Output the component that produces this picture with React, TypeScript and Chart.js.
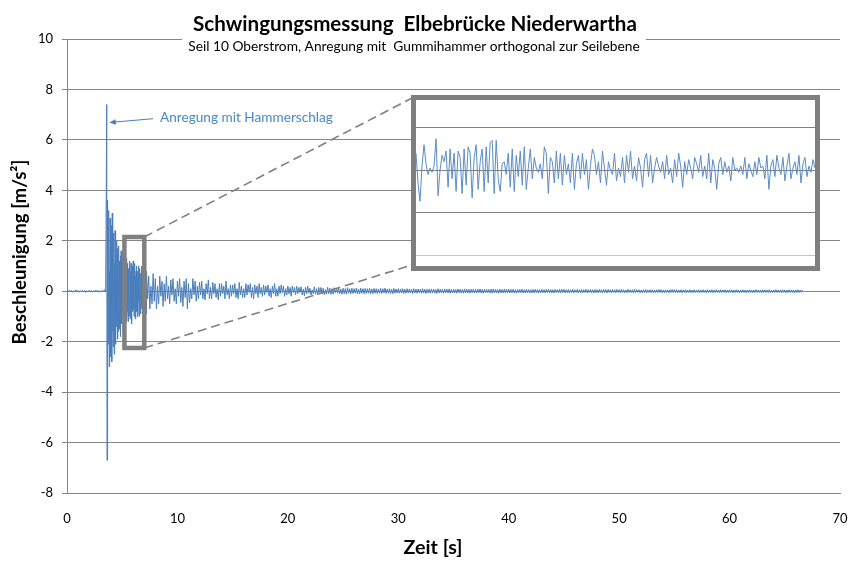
import React, { useEffect, useRef } from "react";
import { Chart, registerables } from "chart.js";
Chart.register(...registerables);

// ---------- data ----------
// acceleration [m/s²] before the hammer hit, 0 s … 3.5 s, every 0.1 s
const PRE_START = 0, PRE_DT = 0.1;
const preAccel: number[] = [
  0.02,-0.03,0.04,-0.02,0.03,-0.04,0.02,-0.03,0.05,-0.02,
  0.03,-0.04,0.02,-0.03,0.04,-0.02,0.03,-0.05,0.02,-0.03,
  0.04,-0.02,0.03,-0.04,0.02,-0.03,0.05,-0.02,0.03,-0.04,
  0.02,-0.03,0.04,-0.02,0.06,-0.03,
];
// hammer hit and strong decay, 3.6 s … 7.175 s, every 0.025 s
const BURST_START = 3.6, BURST_DT = 0.025;
const burstAccel: number[] = [
  7.4,-6.7,3.6,-3.3,1.2,-2.1,3.2,-0.6,2.4,-3.0,0.8,-1.9,2.9,-1.1,1.8,-2.6,
  2.6,-0.9,1.5,-2.8,3.1,-1.6,0.7,-2.2,2.3,-0.4,1.9,-2.5,1.1,-1.7,2.4,-1.2,
  1.6,-2.1,0.5,-1.4,2.0,-0.8,1.3,-1.9,1.7,-0.6,0.9,-1.6,1.8,-1.0,1.2,-1.5,
  0.6,-1.8,1.4,-0.5,1.6,-1.2,0.8,-1.3,1.5,-0.7,1.1,-1.6,0.4,-0.9,1.3,-1.1,
  1.2,-0.5,0.9,-1.3,0.6,-1.0,1.3,-0.4,1.0,-1.2,0.5,-0.8,1.1,-0.9,0.7,-1.2,
  0.9,-0.6,1.2,-1.0,0.4,-1.1,0.8,-0.5,1.1,-0.9,0.6,-1.3,0.9,-0.3,1.0,-0.8,
  1.2,-0.7,0.5,-1.0,0.9,-0.4,1.1,-0.9,0.6,-1.1,0.8,-0.5,1.0,-0.8,0.3,-0.9,
  0.8,-1.0,0.6,-0.4,1.0,-0.7,0.5,-1.0,0.9,-0.6,0.7,-0.9,0.4,-0.7,1.0,-0.5,
  0.7,-0.9,0.3,-0.6,0.8,-1.0,0.6,-0.4,0.9,-0.7,0.5,-0.8,0.7,-0.3,0.6,-0.9,
];
// slow decay, 7.2 s … 66.6 s, every 0.1 s
const DECAY_START = 7.2, DECAY_DT = 0.1;
const decayAccel: number[] = [
  0.8,-0.3,0.6,-0.7,0.2,-0.5,0.7,-0.4,
  0.5,-0.7,0.2,-0.5,0.6,-0.2,0.4,-0.6,0.3,-0.4,
  0.6,-0.3,0.2,-0.5,0.45,-0.15,0.5,-0.4,0.1,-0.5,
  0.4,-0.2,0.5,-0.45,0.15,-0.6,0.4,-0.25,0.5,-0.7,
  0.3,-0.45,0.1,-0.3,0.5,-0.15,0.4,-0.4,0.2,-0.3,
  0.35,-0.15,0.4,-0.3,0.1,-0.35,0.3,-0.1,0.45,-0.3,
  0.15,-0.3,0.35,-0.1,0.3,-0.25,0.1,-0.35,0.3,-0.2,
  0.3,-0.1,0.2,-0.3,0.4,-0.15,0.1,-0.3,0.25,-0.2,
  0.25,-0.1,0.3,-0.25,0.1,-0.3,0.35,-0.15,0.2,-0.25,
  0.1,-0.25,0.3,-0.15,0.25,-0.05,0.3,-0.25,0.15,-0.3,
  0.25,-0.1,0.2,-0.25,0.3,-0.1,0.15,-0.2,0.25,-0.15,
  0.2,-0.05,0.25,-0.2,0.1,-0.25,0.2,-0.1,0.3,-0.2,
  0.1,-0.2,0.2,-0.1,0.25,-0.05,0.2,-0.2,0.1,-0.15,
  0.2,-0.1,0.15,-0.2,0.2,-0.05,0.15,-0.15,0.2,-0.1,
  0.15,-0.05,0.18,-0.15,0.08,-0.18,0.15,-0.1,0.2,-0.08,
  0.12,-0.15,0.05,-0.1,0.18,-0.12,0.1,-0.15,0.15,-0.06,
  0.15,-0.1,0.12,-0.14,0.06,-0.12,0.16,-0.1,0.12,-0.12,
  0.1,-0.12,0.14,-0.06,0.12,-0.08,0.15,-0.1,0.08,-0.12,
  0.12,-0.1,0.1,-0.12,0.14,-0.08,0.1,-0.1,0.12,-0.09,
  0.1,-0.08,0.12,-0.1,0.09,-0.11,0.12,-0.08,0.1,-0.1,
  0.11,-0.09,0.1,-0.08,0.12,-0.1,0.09,-0.1,0.11,-0.08,
  0.1,-0.1,0.09,-0.08,0.11,-0.09,0.1,-0.07,0.12,-0.09,
  0.09,-0.08,0.1,-0.09,0.08,-0.1,0.11,-0.08,0.09,-0.07,
  0.1,-0.08,0.09,-0.07,0.1,-0.09,0.08,-0.08,0.1,-0.07,
  0.09,-0.07,0.08,-0.09,0.1,-0.07,0.08,-0.08,0.09,-0.06,
  0.08,-0.08,0.1,-0.07,0.08,-0.09,0.07,-0.07,0.09,-0.08,
  0.09,-0.06,0.08,-0.08,0.07,-0.09,0.1,-0.07,0.08,-0.06,
  0.07,-0.08,0.09,-0.06,0.08,-0.07,0.09,-0.08,0.07,-0.07,
  0.08,-0.07,0.07,-0.08,0.09,-0.06,0.08,-0.07,0.07,-0.08,
  0.09,-0.06,0.08,-0.07,0.07,-0.08,0.08,-0.06,0.09,-0.07,
  0.07,-0.07,0.08,-0.06,0.09,-0.07,0.07,-0.08,0.08,-0.06,
  0.08,-0.06,0.07,-0.07,0.08,-0.08,0.09,-0.06,0.07,-0.07,
  0.07,-0.08,0.08,-0.06,0.07,-0.07,0.08,-0.07,0.09,-0.06,
  0.08,-0.07,0.07,-0.06,0.08,-0.07,0.06,-0.08,0.07,-0.06,
  0.07,-0.06,0.08,-0.07,0.06,-0.07,0.08,-0.06,0.07,-0.07,
  0.06,-0.07,0.07,-0.06,0.08,-0.06,0.07,-0.07,0.06,-0.06,
  0.07,-0.06,0.06,-0.07,0.07,-0.05,0.08,-0.06,0.07,-0.07,
  0.06,-0.07,0.07,-0.05,0.06,-0.07,0.07,-0.06,0.08,-0.05,
  0.07,-0.06,0.06,-0.06,0.07,-0.07,0.06,-0.05,0.07,-0.06,
  0.06,-0.05,0.07,-0.06,0.06,-0.06,0.07,-0.07,0.06,-0.05,
  0.07,-0.06,0.06,-0.05,0.07,-0.06,0.06,-0.07,0.07,-0.06,
  0.06,-0.06,0.07,-0.05,0.06,-0.06,0.07,-0.05,0.06,-0.07,
  0.07,-0.05,0.06,-0.06,0.07,-0.05,0.06,-0.06,0.07,-0.05,
  0.06,-0.06,0.07,-0.05,0.06,-0.06,0.05,-0.06,0.07,-0.05,
  0.06,-0.05,0.06,-0.06,0.07,-0.05,0.06,-0.05,0.06,-0.06,
  0.05,-0.06,0.06,-0.05,0.07,-0.06,0.05,-0.05,0.06,-0.06,
  0.06,-0.05,0.05,-0.06,0.06,-0.05,0.07,-0.05,0.06,-0.06,
  0.05,-0.06,0.06,-0.05,0.05,-0.06,0.06,-0.05,0.07,-0.05,
  0.06,-0.05,0.06,-0.06,0.05,-0.05,0.06,-0.06,0.05,-0.05,
  0.06,-0.06,0.05,-0.05,0.06,-0.05,0.05,-0.06,0.06,-0.05,
  0.05,-0.05,0.06,-0.06,0.05,-0.05,0.06,-0.05,0.05,-0.06,
  0.06,-0.05,0.05,-0.05,0.06,-0.06,0.05,-0.05,0.06,-0.05,
  0.05,-0.06,0.06,-0.05,0.05,-0.05,0.06,-0.06,0.05,-0.05,
  0.06,-0.05,0.05,-0.06,0.05,-0.05,0.06,-0.05,0.05,-0.06,
  0.05,-0.05,0.06,-0.05,0.05,-0.06,0.05,-0.05,0.06,-0.05,
  0.05,-0.06,0.05,-0.05,0.06,-0.05,0.05,-0.05,0.05,-0.06,
  0.06,-0.05,0.05,-0.05,0.05,-0.06,0.06,-0.05,0.05,-0.05,
  0.05,-0.05,0.06,-0.05,0.05,-0.05,0.05,-0.06,0.06,-0.05,
  0.05,-0.06,0.05,-0.05,0.06,-0.05,0.05,-0.05,0.05,-0.06,
  0.05,-0.05,0.06,-0.05,0.05,-0.04,0.05,
];

// zoomed detail shown in the inset (same units)
const insetAccel: number[] = [
  0.4,-0.3,-0.73,0.1,0.6,0.15,-0.1,0.05,-0.05,0.1,
  0.74,-0.6,0.0,0.35,0.2,0.45,-0.4,0.5,-0.2,0.4,
  -0.5,0.45,0.3,-0.55,0.5,-0.35,0.55,0.4,-0.65,0.3,
  0.6,-0.45,0.2,0.5,-0.5,0.55,-0.3,0.65,0.7,-0.55,
  0.7,-0.2,-0.5,0.15,0.2,-0.1,0.4,-0.4,0.5,-0.5,
  0.35,-0.15,0.45,-0.35,0.55,-0.45,0.05,0.5,-0.2,0.3,
  0.05,-0.05,0.15,-0.2,0.55,0.4,-0.55,0.3,0.2,-0.3,
  0.45,-0.2,0.4,-0.35,0.35,-0.1,0.15,-0.3,0.4,-0.45,
  0.15,0.35,-0.2,0.4,-0.1,0.25,-0.45,0.1,0.5,0.35,
  -0.1,0.2,-0.3,0.45,0.05,-0.35,0.2,0.0,-0.1,0.4,
  -0.25,0.05,-0.15,0.3,-0.3,0.35,-0.05,0.45,-0.2,0.1,
  -0.25,0.3,0.05,-0.4,0.25,0.4,-0.15,0.35,-0.3,0.05,
  0.3,0.1,-0.05,0.2,-0.2,0.35,-0.1,0.05,-0.3,0.25,
  -0.15,0.4,0.1,-0.4,0.2,-0.1,0.25,0.05,-0.2,0.3,
  0.15,-0.05,0.35,-0.15,0.1,-0.2,0.4,-0.3,0.25,0.05,
  -0.45,0.15,0.3,-0.1,0.2,-0.05,0.1,-0.25,0.3,0.0,
  0.05,-0.05,0.1,-0.1,0.3,-0.2,0.15,0.0,-0.15,0.2,
  -0.1,0.3,0.05,0.1,-0.2,0.35,-0.45,0.1,0.25,-0.15,
  0.35,0.05,-0.1,0.3,-0.25,0.1,0.4,-0.2,0.05,0.2,
  -0.1,0.35,-0.3,0.15,0.3,-0.15,0.1,-0.05,0.25,0.05,
];

const segments = [
  { start: PRE_START, step: PRE_DT, values: preAccel },
  { start: BURST_START, step: BURST_DT, values: burstAccel },
  { start: DECAY_START, step: DECAY_DT, values: decayAccel },
];

const X_MIN = 0, X_MAX = 70, X_STEP = 10;
const Y_MIN = -8, Y_MAX = 10, Y_STEP = 2;
const INSET_Y_MIN = -2.25, INSET_Y_MAX = 1.65;
const insetGridValues = [-2, -1, 0, 1];
// zoom window (data units)
const zoomWindow = { t0: 5.2, t1: 7.0, a0: -2.25, a1: 2.15 };
// annotation (data units)
const annotation = { text: "Anregung mit Hammerschlag", tipT: 3.83, tipA: 6.69, fromT: 7.8, fromA: 6.84, textT: 8.42, textA: 6.87 };

const TITLE = "Schwingungsmessung  Elbebrücke Niederwartha";
const SUBTITLE = "Seil 10 Oberstrom, Anregung mit  Gummihammer orthogonal zur Seilebene";
const X_TITLE = "Zeit [s]";
const Y_TITLE = "Beschleunigung [m/s²]";

// ---------- layout / style ----------
const W = 866, H = 574;
const INSET = { left: 411, top: 95, width: 409, height: 176, border: 5 };
const FONT = "Lato, 'Open Sans', sans-serif";
const GRID = "#868686";
const LINE = "#4a7ebb";
const ANNOT = "#4a88c6";

function fitFont(ctx: CanvasRenderingContext2D, text: string, weight: string, width: number) {
  ctx.font = `${weight} 100px ${FONT}`;
  const w = ctx.measureText(text).width;
  return `${weight} ${(100 * width / w).toFixed(2)}px ${FONT}`;
}

const overlayPlugin = {
  id: "overlay",
  afterDraw(chart: any) {
    const { ctx, scales } = chart;
    const sx = scales.x, sy = scales.y;
    ctx.save();
    // zoom window box
    const bx0 = sx.getPixelForValue(zoomWindow.t0), bx1 = sx.getPixelForValue(zoomWindow.t1);
    const by0 = sy.getPixelForValue(zoomWindow.a1), by1 = sy.getPixelForValue(zoomWindow.a0);
    ctx.strokeStyle = "#808080";
    ctx.lineWidth = 4.5;
    ctx.strokeRect(bx0, by0, bx1 - bx0, by1 - by0);
    // dashed connectors
    ctx.lineWidth = 1.6;
    ctx.setLineDash([9, 5]);
    ctx.beginPath();
    ctx.moveTo(bx1, by0);
    ctx.lineTo(INSET.left + 1, INSET.top + 3);
    ctx.moveTo(bx1, by1);
    ctx.lineTo(INSET.left + 1, INSET.top + INSET.height - 6);
    ctx.stroke();
    ctx.setLineDash([]);
    // annotation arrow
    const tx = sx.getPixelForValue(annotation.tipT), ty = sy.getPixelForValue(annotation.tipA);
    const fx = sx.getPixelForValue(annotation.fromT), fy = sy.getPixelForValue(annotation.fromA);
    ctx.strokeStyle = LINE;
    ctx.fillStyle = LINE;
    ctx.lineWidth = 1;
    ctx.beginPath();
    ctx.moveTo(fx, fy);
    ctx.lineTo(tx + 5, ty - 0.4);
    ctx.stroke();
    const ang = Math.atan2(ty - fy, tx - fx);
    ctx.beginPath();
    ctx.moveTo(tx, ty);
    ctx.lineTo(tx - 7 * Math.cos(ang - 0.4), ty - 7 * Math.sin(ang - 0.4));
    ctx.lineTo(tx - 7 * Math.cos(ang + 0.4), ty - 7 * Math.sin(ang + 0.4));
    ctx.closePath();
    ctx.fill();
    ctx.fillStyle = ANNOT;
    ctx.font = fitFont(ctx, annotation.text, "normal", 173);
    ctx.textAlign = "left";
    ctx.textBaseline = "middle";
    ctx.fillText(annotation.text, sx.getPixelForValue(annotation.textT), sy.getPixelForValue(annotation.textA));
    // title box
    ctx.fillStyle = "#ffffff";
    ctx.fillRect(182, 30, 464, 28);
    ctx.fillStyle = "#000000";
    ctx.textAlign = "center";
    ctx.font = fitFont(ctx, TITLE, "bold", 444);
    ctx.fillText(TITLE, 415, 24);
    ctx.font = fitFont(ctx, SUBTITLE, "normal", 452);
    ctx.fillText(SUBTITLE, 414, 47);
    // axis titles
    ctx.font = fitFont(ctx, X_TITLE, "bold", 59);
    ctx.fillText(X_TITLE, 433, 548);
    ctx.save();
    ctx.translate(20, 252);
    ctx.rotate(-Math.PI / 2);
    ctx.font = fitFont(ctx, Y_TITLE, "bold", 185);
    ctx.fillText(Y_TITLE, 0, 0);
    ctx.restore();
    ctx.restore();
  },
};

export default function App() {
  const mainRef = useRef<HTMLCanvasElement>(null);
  const insetRef = useRef<HTMLCanvasElement>(null);

  useEffect(() => {
    document.body.style.margin = "0";
    const tickFont = { family: FONT, size: 13 };
    const points = segments.flatMap((s) => s.values.map((v, i) => ({ x: s.start + i * s.step, y: v })));
    const main = new Chart(mainRef.current as HTMLCanvasElement, {
      type: "line",
      data: {
        datasets: [
          {
            data: points,
            borderColor: LINE,
            borderWidth: 1,
            pointRadius: 0,
            tension: 0,
          },
        ],
      },
      options: {
        animation: false,
        responsive: false,
        events: [],
        layout: { padding: { top: 39, right: 26, left: 0, bottom: 0 } },
        plugins: { legend: { display: false }, tooltip: { enabled: false }, title: { display: false } },
        scales: {
          x: {
            type: "linear",
            min: X_MIN,
            max: X_MAX,
            ticks: { stepSize: X_STEP, padding: 18, color: "#000", font: tickFont },
            grid: { display: false, drawTicks: false },
            border: { display: true, color: GRID },
            afterFit: (s: any) => { s.height = 81; },
          },
          y: {
            min: Y_MIN,
            max: Y_MAX,
            ticks: { stepSize: Y_STEP, padding: 9, color: "#000", font: tickFont },
            grid: { color: GRID, tickLength: 5 },
            border: { color: GRID },
            afterFit: (s: any) => { s.width = 67; },
          },
        },
      },
      plugins: [overlayPlugin],
    } as any);

    const inset = new Chart(insetRef.current as HTMLCanvasElement, {
      type: "line",
      data: {
        datasets: [
          {
            data: insetAccel.map((v, i) => ({ x: i, y: v })),
            borderColor: "#5a8cc8",
            borderWidth: 1,
            pointRadius: 0,
            tension: 0,
          },
        ],
      },
      options: {
        animation: false,
        responsive: false,
        events: [],
        layout: { padding: 0 },
        plugins: { legend: { display: false }, tooltip: { enabled: false } },
        scales: {
          x: { type: "linear", min: 0, max: insetAccel.length - 1, display: false },
          y: {
            min: INSET_Y_MIN,
            max: INSET_Y_MAX,
            ticks: { display: false },
            border: { display: false },
            grid: { drawTicks: false, color: (c: any) => (c.tick && c.tick.value === -2 ? "#c4c4c4" : "#7f7f7f") },
            afterBuildTicks: (s: any) => { s.ticks = insetGridValues.map((v) => ({ value: v })); },
            afterFit: (s: any) => { s.width = 0; },
          },
        },
      },
    } as any);

    return () => {
      main.destroy();
      inset.destroy();
    };
  }, []);

  return (
    <div style={{ position: "relative", width: W, height: H, background: "#fff" }}>
      <canvas ref={mainRef} width={W} height={H} style={{ display: "block" }} />
      <div
        style={{
          position: "absolute",
          left: INSET.left,
          top: INSET.top,
          width: INSET.width,
          height: INSET.height,
          boxSizing: "border-box",
          border: `${INSET.border}px solid #7f7f7f`,
          background: "#fff",
        }}
      >
        <canvas
          ref={insetRef}
          width={INSET.width - 2 * INSET.border}
          height={INSET.height - 2 * INSET.border}
          style={{ display: "block" }}
        />
      </div>
    </div>
  );
}
